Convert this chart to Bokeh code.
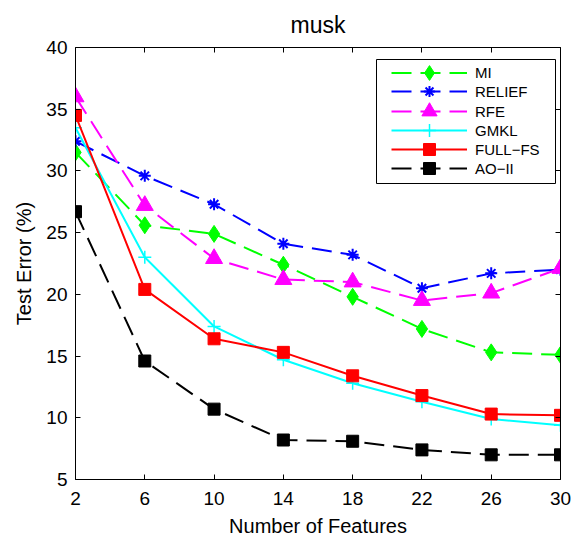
from bokeh.plotting import figure
from bokeh.models import Range1d, LinearAxis, FixedTicker, Legend, LegendItem, BoxAnnotation
from bokeh.embed import file_html
from bokeh.resources import INLINE

features = [2, 6, 10, 14, 18, 22, 26, 30]
mi = [31.5, 25.6, 24.9, 22.4, 19.8, 17.2, 15.3, 15.1]
relief = [32.4, 29.6, 27.3, 24.1, 23.2, 20.5, 21.7, 22.0]
rfe = [36.0, 27.2, 22.9, 21.2, 21.0, 19.5, 20.1, 22.1]
gmkl = [33.5, 23.0, 17.4, 14.7, 12.8, 11.3, 9.9, 9.4]
full_fs = [34.5, 20.4, 16.4, 15.3, 13.4, 11.8, 10.3, 10.2]
ao_ii = [26.7, 14.6, 10.7, 8.2, 8.1, 7.4, 7.0, 7.0]
series_names = ["MI", "RELIEF", "RFE", "GMKL", "FULL\u2212FS", "AO\u2212II"]
x_ticks = [2, 6, 10, 14, 18, 22, 26, 30]
y_ticks = [5, 10, 15, 20, 25, 30, 35, 40]

FONT = "Liberation Sans"

p = figure(output_backend="svg", toolbar_location=None,
           frame_width=485, frame_height=432,
           min_border_left=75, min_border_right=14,
           min_border_top=47, min_border_bottom=59,
           x_range=Range1d(2, 30), y_range=Range1d(5, 40),
           title="musk")
p.title.align = "center"
p.title.text_font = FONT
p.title.text_font_size = "23px"
p.title.text_font_style = "normal"
p.title.text_color = "black"
p.title.standoff = 19
p.outline_line_color = None
p.grid.visible = False
p.background_fill_color = "white"
p.border_fill_color = "white"

for ax in p.xaxis:
    ax.ticker = FixedTicker(ticks=x_ticks)
    ax.axis_label = "Number of Features"
for ax in p.yaxis:
    ax.ticker = FixedTicker(ticks=y_ticks)
    ax.axis_label = "Test Error (%)"

for ax in list(p.xaxis) + list(p.yaxis):
    ax.major_tick_in = 5
    ax.major_tick_out = 0
    ax.minor_tick_line_color = None
    ax.axis_line_color = "black"
    ax.major_tick_line_color = "black"
    ax.major_label_text_font = FONT
    ax.major_label_text_font_size = "19px"
    ax.major_label_text_color = "black"
    ax.axis_label_text_font = FONT
    ax.axis_label_text_font_size = "20px"
    ax.axis_label_text_font_style = "normal"
    ax.axis_label_text_color = "black"
p.xaxis.major_label_standoff = 12
p.xaxis.axis_label_standoff = 7
p.yaxis.major_label_standoff = 8
p.yaxis.axis_label_standoff = 8

top = LinearAxis(ticker=FixedTicker(ticks=x_ticks), major_tick_in=5, major_tick_out=0,
                 minor_tick_line_color=None,
                 major_label_overrides={t: "" for t in x_ticks},
                 major_label_standoff=0)
right = LinearAxis(ticker=FixedTicker(ticks=y_ticks), major_tick_in=5, major_tick_out=0,
                   minor_tick_line_color=None,
                   major_label_overrides={t: "" for t in y_ticks},
                   major_label_standoff=0)
p.add_layout(top, "above")
p.add_layout(right, "right")

DASH = "20 9"
entries = []

def add(ys, color, dash, marker, size, name, legend_h, fill=True, mlw=1.0):
    ln = p.line(features, ys, line_color=color, line_width=2, line_dash=dash)
    if fill:
        sc = p.scatter(features, ys, marker=marker, size=size, fill_color=color,
                       line_color=color, line_width=mlw)
    else:
        sc = p.scatter(features, ys, marker=marker, size=size, line_color=color,
                       line_width=mlw)
    entries.append((LegendItem(label=name, renderers=[ln, sc]), legend_h))

add(mi, "#00ff00", DASH, "diamond", 17, series_names[0], 37)
add(relief, "#0000ff", DASH, "asterisk", 12, series_names[1], 28, fill=False, mlw=2)
add(rfe, "#ff00ff", DASH, "triangle", 17, series_names[2], 38)
add(gmkl, "#00ffff", "solid", "cross", 13, series_names[3], 32, fill=False, mlw=1.5)
add(full_fs, "#ff0000", "solid", "square", 12, series_names[4], 30)
add(ao_ii, "#000000", DASH, "square", 12, series_names[5], 30)

# legend frame (screen units relative to the plot frame)
box = BoxAnnotation(left=301, right=480, bottom=296, top=420,
                    left_units="screen", right_units="screen",
                    bottom_units="screen", top_units="screen",
                    fill_color="white", fill_alpha=1.0,
                    line_color="black", line_width=1, line_alpha=1.0)
p.add_layout(box)

# one legend per row so markers can be drawn at their full size
first_row_center = 406.7
row_pitch = 19.2
for i, (item, gh) in enumerate(entries):
    center = first_row_center - i * row_pitch
    lg = Legend(items=[item], location=(316, round(center - gh / 2)), padding=0, spacing=0,
                glyph_width=76, glyph_height=gh, label_height=gh,
                label_width=60, label_standoff=8,
                label_text_font=FONT, label_text_font_size="15px",
                label_text_color="black",
                border_line_color=None, background_fill_alpha=0.0, margin=0)
    p.add_layout(lg, "center")

open("out.html", "w").write(file_html(p, INLINE))
